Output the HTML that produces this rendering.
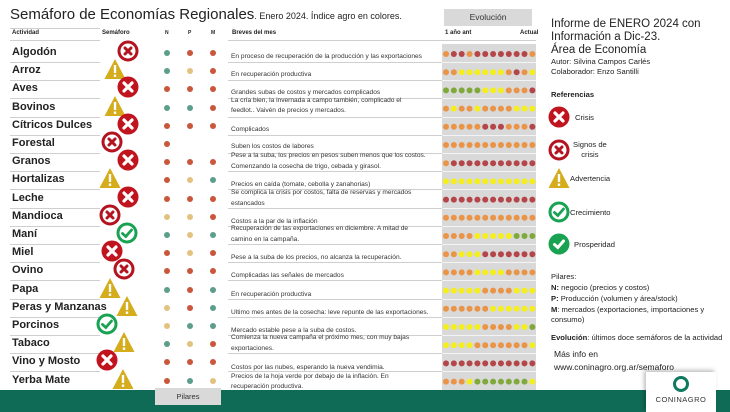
<!DOCTYPE html>
<html><head><meta charset="utf-8">
<style>
*{margin:0;padding:0;box-sizing:border-box}
body{width:730px;height:412px;background:#fff;position:relative;overflow:hidden;font-family:"Liberation Sans",sans-serif;color:#222}
.a{position:absolute;white-space:nowrap}
.name{font-weight:bold;font-size:11px;left:12px}
.brief{font-size:6.6px;left:231px;color:#333}
.dot{position:absolute;width:6px;height:6px;border-radius:50%}
.hl{position:absolute;height:1px;background:#cfcfcf}
.r{font-size:11.5px;left:551px;color:#222}
.s{font-size:7.6px;left:551px;color:#222}
</style></head><body>
<div class="a" style="left:10px;top:6px;font-size:15px;color:#222">Semáforo de Economías Regionales<span style="font-size:9px">. Enero 2024. Índice agro en colores.</span></div>
<div class="a" style="left:444px;top:9px;width:88px;height:17px;background:#d9d9d9;font-size:8.5px;text-align:center;line-height:17px;color:#333">Evolución</div>
<div class="a" style="left:12px;top:30px;font-size:6px;font-weight:bold">Actividad</div>
<div class="a" style="left:102px;top:30px;font-size:6px;font-weight:bold">Semáforo</div>
<div class="a" style="left:165px;top:30px;font-size:5px;font-weight:bold">N</div>
<div class="a" style="left:188px;top:30px;font-size:5px;font-weight:bold">P</div>
<div class="a" style="left:211px;top:30px;font-size:5px;font-weight:bold">M</div>
<div class="a" style="left:232px;top:30px;font-size:6px;font-weight:bold">Breves del mes</div>
<div class="a" style="left:445px;top:30px;font-size:6px;font-weight:bold">1 año ant</div>
<div class="a" style="left:520px;top:30px;font-size:6px;font-weight:bold">Actual</div>
<div class="hl" style="left:10px;top:28px;width:90px"></div>
<div class="hl" style="left:10px;top:40px;width:90px"></div>
<div class="hl" style="left:228px;top:40px;width:308px"></div>
<div class="a" style="left:442px;top:44px;width:94px;height:347px;background:#d9d9d9"></div>
<div id="rows"></div>
<div class="a" style="left:0;top:390px;width:730px;height:22px;background:#0f6b55"></div>
<div class="a" style="left:155px;top:388px;width:66px;height:17px;background:#d9d9d9;font-size:7.5px;text-align:center;line-height:17px;color:#333">Pilares</div>
<div class="a" style="left:646px;top:372px;width:70px;height:40px;background:#fff;box-shadow:-2px -2px 4px rgba(0,0,0,.25)">
 <div style="position:absolute;left:27px;top:4px;width:16px;height:16px;border-radius:50%;border:3px solid #0f7a60"></div>
 <div style="position:absolute;left:0;width:70px;top:23px;text-align:center;font-size:7.5px;color:#333;letter-spacing:.5px">CONINAGRO</div>
</div>
<div class="a r" style="top:18px">Informe de ENERO 2024 con</div>
<div class="a r" style="top:31px">Información a Dic-23.</div>
<div class="a r" style="top:44px">Área de Economía</div>
<div class="a s" style="top:57px">Autor: Silvina Campos Carlés</div>
<div class="a s" style="top:67px">Colaborador: Enzo Santilli</div>
<div class="a s" style="top:90px;font-weight:bold">Referencias</div>
<div class="a s" style="left:575px;top:113px">Crisis</div>
<div class="a s" style="left:573px;top:140px;text-align:center;line-height:10px">Signos de<br>crisis</div>
<div class="a s" style="left:570px;top:174px">Advertencia</div>
<div class="a s" style="left:570px;top:208px">Crecimiento</div>
<div class="a s" style="left:574px;top:240px">Prosperidad</div>
<div class="a s" style="top:272px">Pilares:</div>
<div class="a s" style="top:283px"><b>N:</b> negocio (precios y costos)</div>
<div class="a s" style="top:294px"><b>P:</b> Producción (volumen y área/stock)</div>
<div class="a s" style="top:305px"><b>M</b>: mercados (exportaciones, importaciones y</div>
<div class="a s" style="top:315px">consumo)</div>
<div class="a s" style="top:333px"><b>Evolución</b>: últimos doce semáforos de la actividad</div>
<div class="a s" style="left:554px;top:349px;font-size:8.5px">Más info en</div>
<div class="a s" style="left:554px;top:362px;font-size:8.5px">www.coninagro.org.ar/semaforo</div>
<script>
function icon(t,x,y,s){s=s||22;var h='<svg class="a" style="left:'+(x-s/2)+'px;top:'+(y-s/2)+'px" width="'+s+'" height="'+s+'" viewBox="0 0 22 22">';
if(t=='c')h+='<circle cx="11" cy="11" r="10.5" fill="#c0141e"/><path d="M7 7L15 15M15 7L7 15" stroke="#fff" stroke-width="3.2" stroke-linecap="round"/>';
if(t=='s')h+='<circle cx="11" cy="11" r="9" fill="#fff" stroke="#b31420" stroke-width="3"/><path d="M8 8L14 14M14 8L8 14" stroke="#b31420" stroke-width="3" stroke-linecap="round"/>';
if(t=='w')h+='<path d="M11 1L21.5 21H0.5Z" fill="#d4ac1c"/><rect x="9.8" y="7" width="2.4" height="8" fill="#fff"/><rect x="9.8" y="16.5" width="2.4" height="2.4" fill="#fff"/>';
if(t=='g')h+='<circle cx="11" cy="11" r="9" fill="#fff" stroke="#1aa253" stroke-width="3"/><path d="M6.5 11.5L9.8 14.5L15.5 8" stroke="#1aa253" stroke-width="2.8" fill="none" stroke-linecap="round"/>';
if(t=='p')h+='<circle cx="11" cy="11" r="10.5" fill="#1aa253"/><path d="M6.5 11.5L9.8 14.5L15.5 8" stroke="#fff" stroke-width="3" fill="none" stroke-linecap="round"/>';
return h+'</svg>';}
var rows=[
["Algodón","s",128,"trr","orrorrrrrrro",[[57,"En proceso de recuperación de la producción y las exportaciones"]]],
["Arroz","w",115,"tnr","ooyyyyyyoroy",[[75,"En recuperación productiva"]]],
["Aves","c",128,"rrr","gggggyyyooor",[[93,"Grandes subas de costos y mercados complicados"]]],
["Bovinos","w",115,"ttr","oyooyooooyyy",[[101,"La cría bien, la invernada a campo también, complicado el"],[111,"feedlot.. Vaivén de precios y mercados."]]],
["Cítricos Dulces","c",128,"rrr","ooooorrrooor",[[130,"Complicados"]]],
["Forestal","s",112,"r--","oooooooooooo",[[147,"Suben los costos de labores"]]],
["Granos","c",128,"rrr","orrrrrrrrrrr",[[156,"Pese a la suba, los precios en pesos suben menos que los costos."],[167,"Comenzando la cosecha de trigo, cebada y girasol."]]],
["Hortalizas","w",110,"rnt","yyyyyyyyyyyy",[[185,"Precios en caída (tomate, cebolla y zanahorias)"]]],
["Leche","c",128,"rrr","rrrrrrrrrrrr",[[193,"Se complica la crisis por costos, falta de reservas y mercados"],[204,"estancados"]]],
["Mandioca","s",110,"nnr","oooooooooooo",[[222,"Costos a la par de la inflación"]]],
["Maní","g",127,"tnt","ooooyyyyyggg",[[229,"Recuperación de las exportaciones en diciembre. A mitad de"],[240,"camino en la campaña."]]],
["Miel","c",112,"rnr","ooyyyrrrrrrr",[[258,"Pese a la suba de los precios, no alcanza la recuperación."]]],
["Ovino","s",124,"rrr","ooooyyyyoooo",[[276,"Complicadas las señales de mercados"]]],
["Papa","w",110,"trt","yyyyyooooyyy",[[295,"En recuperación productiva"]]],
["Peras y Manzanas","w",127,"nrt","ooooooyyyyyy",[[313,"Ultimo mes antes de la cosecha: leve repunte de las exportaciones."]]],
["Porcinos","g",107,"ntt","yyyyyooooyyg",[[331,"Mercado estable pese a la suba de costos."]]],
["Tabaco","w",124,"tnr","yyyyoooooooy",[[338,"Comienza la nueva campaña el próximo mes, con muy bajas"],[349,"exportaciones."]]],
["Vino y Mosto","c",107,"rrr","rrrrrrrrrrrr",[[368,"Costos por las nubes, esperando la nueva vendimia."]]],
["Yerba Mate","w",123,"rtn","oooygggggggy",[[377,"Precios de la hoja verde por debajo de la inflación. En"],[387,"recuperación productiva."]]]];
var pc={t:"#5c9e8b",r:"#c9573c",n:"#e2c27e"},ec={o:"#ea9447",r:"#b4464a",y:"#f4ee1c",g:"#80a93c"};
var h='',ev='<svg class="a" style="left:0;top:0" width="730" height="412">';
rows.forEach(function(r,i){var cy=53+i*18.2,top=cy-9.1;
h+='<div class="hl" style="left:10px;top:'+(top+18).toFixed(1)+'px;width:90px"></div>';
h+='<div class="hl" style="left:228px;top:'+(top+18).toFixed(1)+'px;width:214px"></div>';
h+='<div class="a" style="left:442px;top:'+(top+18).toFixed(1)+'px;width:94px;height:1px;background:#f4f4f4"></div>';
h+='<div class="a name" style="top:'+(cy-7)+'px">'+r[0]+'</div>';
for(var k=0;k<3;k++){var c=r[3][k];if(c!='-')h+='<div class="dot" style="background:'+pc[c]+';left:'+(164+k*23)+'px;top:'+(cy-3)+'px"></div>';}
for(var k=0;k<12;k++)ev+='<circle cx="'+(446+k*7.85).toFixed(2)+'" cy="'+(cy+1).toFixed(1)+'" r="3" fill="'+ec[r[4][k]]+'"/>';
r[5].forEach(function(t){h+='<div class="a brief" style="top:'+(t[0]-4)+'px">'+t[1]+'</div>';});
});
ev+='</svg>';
h+=ev;
rows.forEach(function(r,i){var cy=53+i*18.2;h+=icon(r[1],r[2],cy-2,22);});
h+=icon('c',559,117,22)+icon('s',559,150,22)+icon('w',559,178,22)+icon('g',559,212,22)+icon('p',559,244,22);
document.getElementById('rows').innerHTML=h;
</script>
</body></html>
